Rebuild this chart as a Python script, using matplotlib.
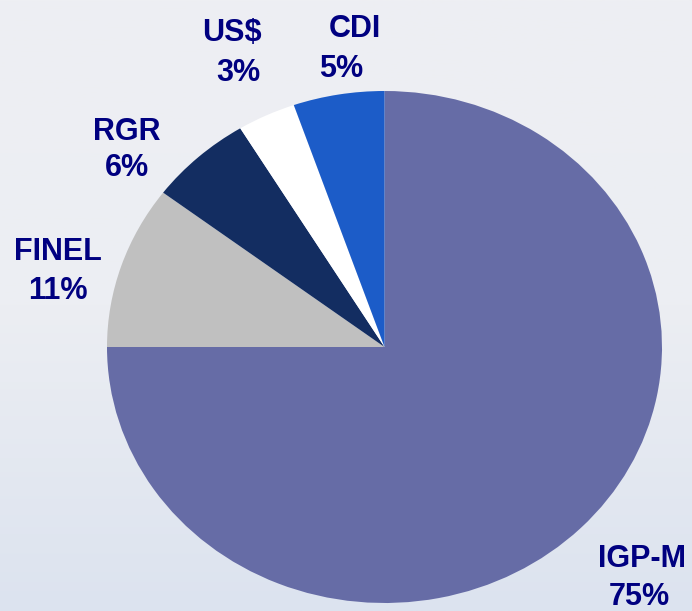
import matplotlib.pyplot as plt
import numpy as np
from matplotlib.colors import LinearSegmentedColormap

# Slice data, clockwise from 12 o'clock (sizes)
categories = ["IGP-M", "FINEL", "RGR", "US$", "CDI"]
shares = [75.0, 10.3, 6.0, 3.4, 5.3]
pct_labels = ["75%", "11%", "6%", "3%", "5%"]

# Styling
COLORS = ["#666ca6", "#c0c0c0", "#132d61", "#ffffff", "#1c5cc8"]
TEXT_COLOR = "#000080"

# Label placement in figure pixels: (name x centre, name baseline, pct x centre, pct baseline)
LABEL_POS = [
    (642, 567, 639, 605),
    (58, 260, 58, 299),
    (127, 140, 127, 176),
    (232, 41, 238, 81),
    (355, 37, 341, 77),
]
NARROW = [False, False, False, True, True]

W, H = 692, 611
fig = plt.figure(figsize=(W / 100, H / 100), dpi=100)

# Background gradient
bg = fig.add_axes([0, 0, 1, 1])
cmap = LinearSegmentedColormap.from_list("bg", ["#eeeff3", "#eceef3", "#dce3ef"])
bg.imshow(np.linspace(0, 1, 256).reshape(-1, 1), aspect="auto", cmap=cmap,
          extent=[0, 1, 0, 1])
bg.axis("off")

# Pie drawn as a slightly squashed ellipse
left, right, top, bottom = 107, 662, 91, 603
ax = fig.add_axes([left / W, 1 - bottom / H, (right - left) / W, (bottom - top) / H])
ax.pie(shares, colors=COLORS, startangle=90, counterclock=False,
       wedgeprops=dict(linewidth=0))
ax.set_aspect("auto")
ax.set_xlim(-1, 1)
ax.set_ylim(-1, 1)
ax.axis("off")

for name, pct, (nx, ny, px, py), narrow in zip(categories, pct_labels, LABEL_POS, NARROW):
    fam = ["Liberation Sans Narrow", "Liberation Sans"] if narrow else ["Liberation Sans"]
    fig.text(nx / W, 1 - ny / H, name, ha="center", va="baseline", fontsize=22,
             fontweight="bold", color=TEXT_COLOR, family=fam)
    fig.text(px / W, 1 - py / H, pct, ha="center", va="baseline", fontsize=22,
             fontweight="bold", color=TEXT_COLOR, family=fam)

fig.savefig("out.png", dpi=100)
